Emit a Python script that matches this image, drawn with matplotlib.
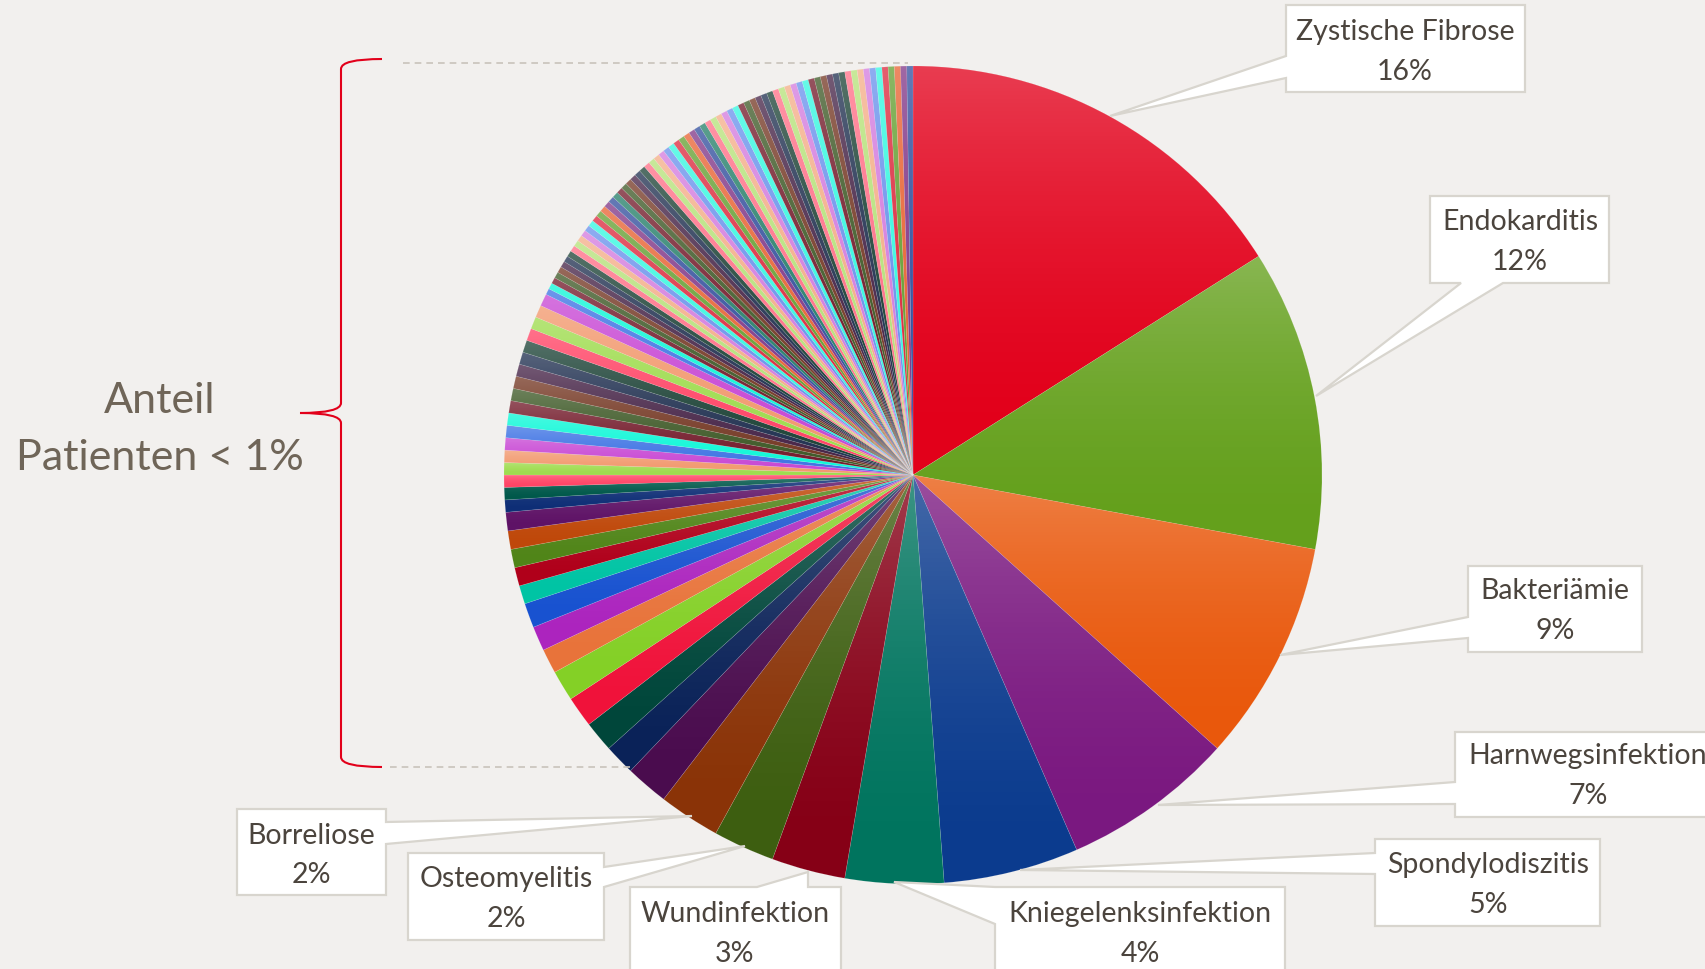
import numpy as np
import matplotlib.pyplot as plt
from matplotlib.path import Path
import matplotlib.patches as patches

# figure size in pixels, everything below is placed in pixel coordinates (y measured from top)
W, H = 1706, 970
bg = '#F2F0EE'

#### Data ############################################
labels_main = ['Zystische Fibrose', 'Endokarditis', 'Bakteriämie', 'Harnwegsinfektion',
               'Spondylodiszitis', 'Kniegelenksinfektion', 'Wundinfektion',
               'Osteomyelitis', 'Borreliose']
counts_main = [66, 49, 36, 28, 22, 16, 12, 10, 10]
# remaining diagnoses (< 1 % each, unlabeled), in drawing order
counts_other = [7, 5, 5, 5, 5, 4, 4, 4, 3, 3, 3, 3, 3,
                2, 2, 2, 2, 2, 2, 2, 2, 2, 2, 2, 2, 2, 2, 2, 2, 2, 2,
                1, 1, 1, 1, 1, 1, 1, 1, 1, 1, 1, 1, 1, 1, 1, 1, 1, 1, 1, 1,
                1, 1, 1, 1, 1, 1, 1, 1, 1, 1, 1, 1, 1, 1, 1, 1, 1, 1, 1, 1,
                1, 1, 1, 1, 1, 1, 1, 1, 1, 1, 1, 1, 1, 1, 1, 1, 1, 1, 1, 1,
                1, 1, 1, 1, 1, 1, 1, 1, 1, 1, 1, 1, 1]
bracket_lines = ['Anteil', 'Patienten < 1%']
######################################################

values = counts_main + counts_other

# colour cycle (office-like palette with shades)
first_colors = ['#E2001A', '#64A01C', '#E9580C', '#7A1880', '#0B3B8E', '#00745E',
                '#860016', '#3D5E10', '#8A3307', '#4A0C4E', '#0A2258', '#00463A',
                '#F0123A', '#84D026', '#E8733A', '#AC24BE', '#1852D0', '#00C4A4',
                '#B0001A', '#508518', '#BF480A', '#5E1266', '#0E2E76', '#00584A']
L1 = ['#FF4466', '#9EDC4E', '#F2996E', '#C848D4', '#3F74E4', '#10F8D8']
D1 = ['#741C2C', '#3F5A28', '#763A26', '#472548', '#223252', '#1E4438']
L2 = ['#FF7088', '#B6E27A', '#F4AE88', '#D47CDE', '#6A92EC', '#36F8E0']
B = ['#DC2C40', '#66A034', '#E86434', '#823888', '#34509E', '#26806A']
colors = list(first_colors)
for block in [L1, D1, L1, D1, L2, B, D1, L2, B, L2, D1, L2, D1, L2, B]:
    colors += block
colors = colors[:len(values)]


def py(y):
    return H - y


fig = plt.figure(figsize=(W / 100, H / 100), dpi=100, facecolor=bg)
ax = fig.add_axes([0, 0, 1, 1])
ax.set_facecolor(bg)

cx, cy, r = 913, py(476), 409
wedges, _ = ax.pie(values, colors=colors, startangle=90, counterclock=False,
                   center=(cx, cy), radius=r, frame=True,
                   wedgeprops=dict(edgecolor=(1, 1, 1, 0.18), linewidth=0.4))

# light-at-top gradient on every slice
grad = np.zeros((100, 1, 4))
grad[..., :3] = 1.0
t = np.linspace(0, 1, 100)
grad[:, 0, 3] = 0.24 * t ** 1.8
for w in wedges:
    th = np.radians(np.linspace(w.theta1, w.theta2, 60))
    xs = np.append(cx + r * np.cos(th), cx)
    ys = np.append(cy + r * np.sin(th), cy)
    im = ax.imshow(grad, extent=[xs.min(), xs.max(), ys.min(), ys.max()],
                   origin='lower', aspect='auto', interpolation='bilinear', zorder=2)
    im.set_clip_path(w)

# callout labels: box (x0, y0, x1, y1), side of pointer, pointer base (a, b), tip, text pos
callouts = [
    ((1286, 6, 1525, 93), 'left', (57, 79), (1110, 117), (1405, 32, 72)),
    ((1430, 197, 1609, 284), 'bottom', (1461, 1503), (1316, 397), (1520, 222, 262)),
    ((1468, 567, 1642, 653), 'left', (618, 639), (1280, 656), (1555, 591, 631)),
    ((1455, 733, 1722, 818), 'left', (783, 805), (1158, 806), (1588, 756, 796)),
    ((1375, 840, 1600, 927), 'left', (854, 875), (1020, 871), (1488, 865, 905)),
    ((995, 888, 1285, 990), 'left', (888, 925), (894, 883), (1140, 914, 954)),
    ((630, 888, 841, 990), 'top', (757, 808), (808, 873), (735, 914, 954)),
    ((408, 854, 604, 941), 'right', (868, 888), (745, 847), (506, 879, 919)),
    ((237, 810, 386, 896), 'right', (823, 845), (692, 817), (311, 836, 875)),
]

total = sum(values)
edge_c = '#D8D5CE'
txt_c = '#4B443D'
for name, n, (box, side, (a, b), tip, (tx, ty1, ty2)) in zip(labels_main, counts_main, callouts):
    x0, y0, x1, y1 = box
    if side == 'left':
        pts = [(x0, y0), (x1, y0), (x1, y1), (x0, y1), (x0, b), tip, (x0, a)]
    elif side == 'right':
        pts = [(x0, y0), (x1, y0), (x1, a), tip, (x1, b), (x1, y1), (x0, y1)]
    elif side == 'top':
        pts = [(x0, y0), (a, y0), tip, (b, y0), (x1, y0), (x1, y1), (x0, y1)]
    else:
        pts = [(x0, y0), (x1, y0), (x1, y1), (b, y1), tip, (a, y1), (x0, y1)]
    pts = [(px, py(pyy)) for px, pyy in pts]
    ax.add_patch(patches.Polygon(pts, closed=True, facecolor='white', edgecolor=edge_c,
                                 linewidth=1.6, joinstyle='miter', zorder=5))
    ax.text(tx, py(ty1), name, ha='center', va='center', fontsize=20.5,
            family='Lato', color=txt_c, zorder=6)
    ax.text(tx, py(ty2), '%d%%' % round(100.0 * n / total), ha='center', va='center',
            fontsize=20.5, family='Lato', color=txt_c, zorder=6)

# dashed guide lines for the < 1 % group
ax.plot([403, 908], [py(64), py(64)], color='#C9C3BB', lw=1.2, dashes=(4, 3), zorder=4)
ax.plot([390, 633], [py(768), py(768)], color='#C9C3BB', lw=1.2, dashes=(4, 3), zorder=4)

# curly bracket
verts = [(382, 60), (341, 60), (341, 70),
         (341, 404),
         (341, 414), (300, 414),
         (341, 414), (341, 424),
         (341, 758),
         (341, 768), (382, 768)]
codes = [Path.MOVETO, Path.CURVE3, Path.CURVE3,
         Path.LINETO,
         Path.CURVE3, Path.CURVE3,
         Path.CURVE3, Path.CURVE3,
         Path.LINETO,
         Path.CURVE3, Path.CURVE3]
brace = Path([(vx, py(vy)) for vx, vy in verts], codes)
ax.add_patch(patches.PathPatch(brace, facecolor='none', edgecolor='#E2001A', lw=1.5, zorder=4))

for line, ly in zip(bracket_lines, [401, 458]):
    ax.text(160, py(ly), line, ha='center', va='center', fontsize=31,
            family='Lato', color='#6F6558')

ax.set_xlim(0, W)
ax.set_ylim(0, H)
ax.set_aspect('equal')
ax.axis('off')

fig.savefig('out.png', dpi=100, facecolor=bg)
